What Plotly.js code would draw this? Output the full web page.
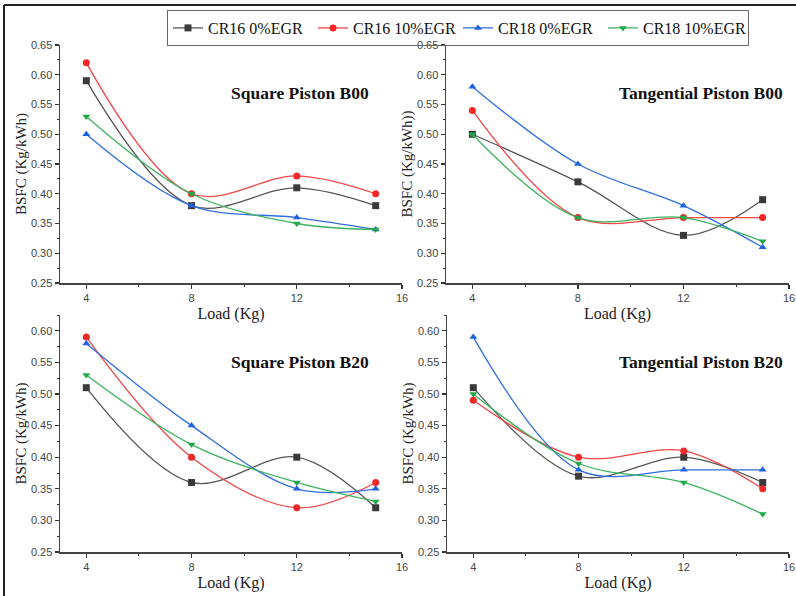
<!DOCTYPE html>
<html>
<head>
<meta charset="utf-8">
<script src="https://cdn.plot.ly/plotly-3.0.1.min.js"></script>
<style>html,body{margin:0;padding:0;background:#fff;}#chart{width:796px;height:596px;}</style>
</head>
<body>
<div id="chart"></div>
<script>
// ---- Data ----
const load = [4, 8, 12, 15];
const seriesNames = ['CR16 0%EGR', 'CR16 10%EGR', 'CR18 0%EGR', 'CR18 10%EGR'];
const panelTitles = ['Square Piston B00', 'Tangential Piston B00', 'Square Piston B20', 'Tangential Piston B20'];
const yTitles = ['BSFC (Kg/kWh)', 'BSFC (Kg/kWh))', 'BSFC (Kg/kWh)', 'BSFC (Kg/kWh)'];
const xTitle = 'Load (Kg)';
const xTickVals = [4, 8, 12, 16];

// Square Piston B00
const sqB00_cr16_0 = [0.59, 0.38, 0.41, 0.38];
const sqB00_cr16_10 = [0.62, 0.40, 0.43, 0.40];
const sqB00_cr18_0 = [0.50, 0.38, 0.36, 0.34];
const sqB00_cr18_10 = [0.53, 0.40, 0.35, 0.34];
// Tangential Piston B00
const tgB00_cr16_0 = [0.50, 0.42, 0.33, 0.39];
const tgB00_cr16_10 = [0.54, 0.36, 0.36, 0.36];
const tgB00_cr18_0 = [0.58, 0.45, 0.38, 0.31];
const tgB00_cr18_10 = [0.50, 0.36, 0.36, 0.32];
// Square Piston B20
const sqB20_cr16_0 = [0.51, 0.36, 0.40, 0.32];
const sqB20_cr16_10 = [0.59, 0.40, 0.32, 0.36];
const sqB20_cr18_0 = [0.58, 0.45, 0.35, 0.35];
const sqB20_cr18_10 = [0.53, 0.42, 0.36, 0.33];
// Tangential Piston B20
const tgB20_cr16_0 = [0.51, 0.37, 0.40, 0.36];
const tgB20_cr16_10 = [0.49, 0.40, 0.41, 0.35];
const tgB20_cr18_0 = [0.59, 0.38, 0.38, 0.38];
const tgB20_cr18_10 = [0.50, 0.39, 0.36, 0.31];

const panels = [
  [sqB00_cr16_0, sqB00_cr16_10, sqB00_cr18_0, sqB00_cr18_10],
  [tgB00_cr16_0, tgB00_cr16_10, tgB00_cr18_0, tgB00_cr18_10],
  [sqB20_cr16_0, sqB20_cr16_10, sqB20_cr18_0, sqB20_cr18_10],
  [tgB20_cr16_0, tgB20_cr16_10, tgB20_cr18_0, tgB20_cr18_10]
];

// ---- Styles ----
const W = 796, H = 596;
const lineColors = ['#555555', '#f04646', '#2f6fe0', '#3cb35e'];
const markerColors = ['#3a3a3a', '#f02828', '#1f62e0', '#22a84a'];
const symbols = ['square', 'circle', 'triangle-up', 'triangle-down'];

// pixel boxes [x0, x1, yTop, yBottom]
const boxes = [
  [60, 402, 45, 283],
  [446, 789, 45, 283],
  [60, 402, 315, 552],
  [447, 789, 315, 552]
];
const yRanges = [[0.25, 0.65], [0.25, 0.65], [0.25, 0.625], [0.25, 0.625]];

const traces = [];
panels.forEach((p, pi) => {
  const sfx = pi === 0 ? '' : String(pi + 1);
  p.forEach((vals, si) => {
    traces.push({
      x: load, y: vals, type: 'scatter', mode: 'lines+markers',
      name: seriesNames[si], showlegend: pi === 0,
      xaxis: 'x' + sfx, yaxis: 'y' + sfx,
      line: {color: lineColors[si], width: 1.3, shape: 'spline', smoothing: 1},
      marker: {color: markerColors[si], symbol: symbols[si], size: 7}
    });
  });
});

const layout = {
  width: W, height: H,
  margin: {l: 0, r: 0, t: 0, b: 0},
  paper_bgcolor: '#fff', plot_bgcolor: '#fff',
  showlegend: true,
  legend: {
    orientation: 'h', x: 167 / W, y: 1 - 10 / H, xanchor: 'left', yanchor: 'top',
    bordercolor: '#666', borderwidth: 1, bgcolor: 'rgba(255,255,255,0)',
    font: {family: 'Liberation Serif, Times New Roman, serif', size: 16, color: '#111'},
    tracegroupgap: 0, itemwidth: 30, entrywidth: 100
  },
  annotations: [],
  shapes: [
    {type: 'line', xref: 'paper', yref: 'paper', x0: 4 / W, x1: 1, y0: 1 - 5 / H, y1: 1 - 5 / H, line: {color: '#222', width: 2}},
    {type: 'line', xref: 'paper', yref: 'paper', x0: 4 / W, x1: 4 / W, y0: 1 - 5 / H, y1: 0, line: {color: '#222', width: 2}}
  ]
};

boxes.forEach((b, i) => {
  const sfx = i === 0 ? '' : String(i + 1);
  const xa = 'xaxis' + sfx, ya = 'yaxis' + sfx;
  layout[xa] = {
    domain: [b[0] / W, b[1] / W], anchor: 'y' + sfx, range: [3, 16],
    tickvals: xTickVals, ticks: 'outside', ticklen: 4, tickwidth: 1.2, tickcolor: '#333',
    minor: {tickvals: [6, 10, 14], ticks: 'outside', ticklen: 2, tickwidth: 1, tickcolor: '#333'},
    showline: true, linecolor: '#444', linewidth: 1.5, showgrid: false, zeroline: false,
    tickfont: {family: 'Liberation Sans, Arial, sans-serif', size: 11, color: '#444'},
    title: {text: xTitle, font: {family: 'Liberation Serif, Times New Roman, serif', size: 16, color: '#222'}, standoff: 5},
    fixedrange: true
  };
  layout[ya] = {
    domain: [1 - b[3] / H, 1 - b[2] / H], anchor: 'x' + sfx, range: yRanges[i],
    dtick: 0.05, tick0: 0.25, tickformat: '.2f', ticks: 'outside', ticklen: 4, tickwidth: 1.2, tickcolor: '#333',
    minor: {dtick: 0.025, ticks: 'outside', ticklen: 2, tickwidth: 1, tickcolor: '#333'},
    showline: true, linecolor: '#444', linewidth: 1.5, showgrid: false, zeroline: false,
    tickfont: {family: 'Liberation Sans, Arial, sans-serif', size: 11, color: '#444'},
    title: {text: yTitles[i], font: {family: 'Liberation Serif, Times New Roman, serif', size: 15, color: '#222'}, standoff: 0},
    fixedrange: true
  };
});

const annPos = [[300, 93], [701, 93], [300, 362], [701, 362]];
annPos.forEach((p, i) => {
  layout.annotations.push({
    text: '<b>' + panelTitles[i] + '</b>', xref: 'paper', yref: 'paper',
    x: p[0] / W, y: 1 - p[1] / H, xanchor: 'center', yanchor: 'middle', showarrow: false,
    font: {family: 'Liberation Serif, Times New Roman, serif', size: 17.5, color: '#111'}
  });
});

Plotly.newPlot('chart', traces, layout, {displayModeBar: false, staticPlot: true});
</script>
</body>
</html>
